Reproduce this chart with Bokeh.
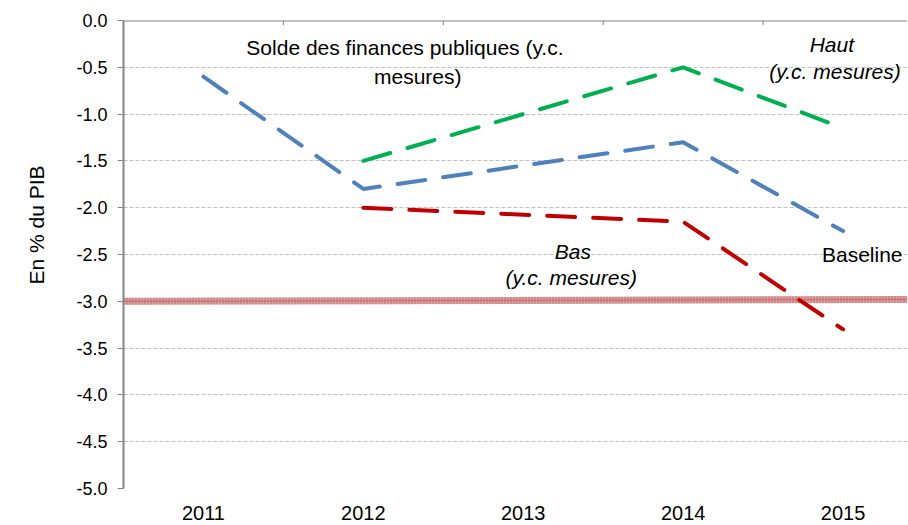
from bokeh.plotting import figure
from bokeh.models import Range1d, FixedTicker, Label, PrintfTickFormatter, Span, Title
from bokeh.embed import file_html
from bokeh.resources import INLINE

# ---- data ----
years_baseline = [2011, 2012, 2014, 2015]
baseline = [-0.6, -1.8, -1.3, -2.25]

years_haut = [2012, 2014, 2015]
haut = [-1.5, -0.5, -1.15]

years_bas = [2012, 2014, 2015]
bas = [-2.0, -2.15, -3.3]

limit_x = [2010.5, 2015.5]
limit_y = [-3.0, -2.98]

x_ticks = [2011, 2012, 2013, 2014, 2015]
x_bounds = [2010.5, 2011.5, 2012.5, 2013.5, 2014.5, 2015.5]
y_ticks = [0.0, -0.5, -1.0, -1.5, -2.0, -2.5, -3.0, -3.5, -4.0, -4.5, -5.0]

FONT = "Liberation Sans"
AXIS_COLOR = "#868686"

p = figure(width=907, height=524,
           x_range=Range1d(2010.5, 2015.403), y_range=Range1d(-5.0, 0.0),
           output_backend="svg", toolbar_location=None,
           min_border_left=120, min_border_right=0,
           min_border_top=20, min_border_bottom=36)
p.outline_line_color = None
p.background_fill_color = "white"
p.border_fill_color = "white"

# grid
p.xgrid.visible = False
p.ygrid.ticker = FixedTicker(ticks=y_ticks)
p.ygrid.grid_line_color = "#BFBFBF"
p.ygrid.grid_line_dash = "4 2"
p.ygrid.grid_line_width = 1

# x axis (bottom, labels only)
p.xaxis.ticker = FixedTicker(ticks=x_ticks)
p.xaxis.axis_line_color = None
p.xaxis.major_tick_line_color = None
p.xaxis.minor_tick_line_color = None
p.xaxis.major_label_standoff = 11
p.xaxis.major_label_text_font = FONT
p.xaxis.major_label_text_font_size = "20px"
p.xaxis.major_label_text_color = "black"

# y axis
p.yaxis.ticker = FixedTicker(ticks=y_ticks)
p.yaxis.formatter = PrintfTickFormatter(format="%.1f")
p.yaxis.axis_line_color = AXIS_COLOR
p.yaxis.axis_line_width = 2
p.yaxis.major_tick_line_color = AXIS_COLOR
p.yaxis.major_tick_line_width = 1
p.yaxis.major_tick_out = 6
p.yaxis.major_tick_in = 0
p.yaxis.minor_tick_line_color = None
p.yaxis.major_label_standoff = 10
p.yaxis.major_label_text_font = FONT
p.yaxis.major_label_text_font_size = "18px"
p.yaxis.major_label_text_color = "black"

# y axis title
p.add_layout(Title(text="En % du PIB", align="left", offset=204, standoff=48,
                   vertical_align="top",
                   text_font=FONT, text_font_size="21px", text_font_style="normal",
                   text_color="black"), "left")

# top horizontal axis line (crosses at 0) with category boundary ticks
p.add_layout(Span(location=0.0, dimension="width", line_color=AXIS_COLOR, line_width=2))
p.segment(x0=x_bounds, y0=[0.0] * len(x_bounds), x1=x_bounds, y1=[-0.05] * len(x_bounds),
          line_color=AXIS_COLOR, line_width=1)

# -3% threshold band
p.line(limit_x, limit_y, line_color="#D9A3A3", line_width=7)
p.line(limit_x, limit_y, line_color="#C0504D", line_width=7, line_alpha=0.55, line_dash="1 2")
p.line(limit_x, limit_y, line_color="#C0504D", line_width=1, line_alpha=0.6)

# series
dash = "28 18"
p.line(years_baseline, baseline, line_color="#4F81BD", line_width=4, line_dash=dash, line_cap="round")
p.line(years_haut, haut, line_color="#00B050", line_width=4, line_dash=dash, line_cap="round")
p.line(years_bas, bas, line_color="#C00000", line_width=4, line_dash=dash, line_cap="round")

def add_text(x, y, txt, italic=False, size="21px"):
    p.add_layout(Label(x=x, y=y, text=txt, text_align="center", text_baseline="middle",
                       text_font=FONT, text_font_size=size, text_color="black",
                       text_font_style="italic" if italic else "normal"))

add_text(2012.26, -0.29, "Solde des finances publiques (y.c.")
add_text(2012.34, -0.60, "mesures)")
add_text(2014.93, -0.26, "Haut", italic=True)
add_text(2014.95, -0.545, "(y.c. mesures)", italic=True)
add_text(2013.31, -2.47, "Bas", italic=True)
add_text(2013.30, -2.75, "(y.c. mesures)", italic=True)
add_text(2015.12, -2.50, "Baseline")

open("out.html", "w").write(file_html(p, INLINE))
